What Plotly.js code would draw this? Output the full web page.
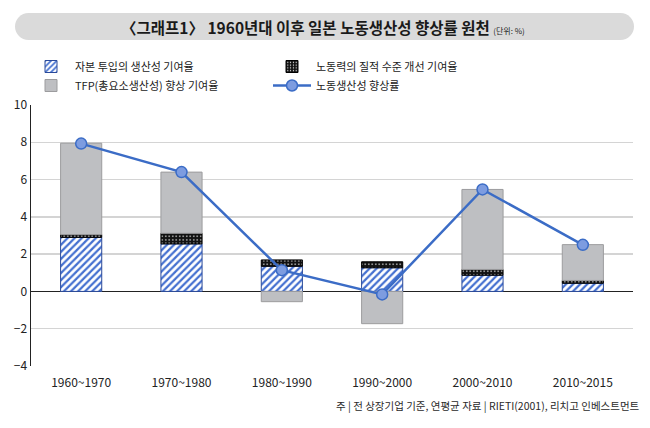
<!DOCTYPE html>
<html>
<head>
<meta charset="utf-8">
<script src="https://cdn.plot.ly/plotly-3.0.1.min.js"></script>
<style>html,body{margin:0;padding:0;background:#fff;}#chart{width:650px;height:428px;}</style>
</head>
<body>
<div id="chart"></div>
<script>
// ---- data ----
var periods = ["1960~1970", "1970~1980", "1980~1990", "1990~2000", "2000~2010", "2010~2015"];
var capitalContribution = [2.9, 2.55, 1.35, 1.27, 0.87, 0.44];      // 자본 투입의 생산성 기여율
var laborQualityContribution = [0.15, 0.57, 0.34, 0.32, 0.31, 0.15]; // 노동력의 질적 수준 개선 기여율
var tfpContribution = [4.9, 3.28, -0.55, -1.73, 4.29, 1.92];       // TFP(총요소생산성) 향상 기여율
var productivityGrowth = [7.93, 6.4, 1.14, -0.16, 5.47, 2.5];      // 노동생산성 향상률
var yTicks = [-4, -2, 0, 2, 4, 6, 8, 10];

var FONT = '"Noto Sans CJK KR", "Noto Sans", sans-serif';

var traces = [
  {
    type: 'bar', name: '자본 투입의 생산성 기여율', x: periods, y: capitalContribution,
    legend: 'legend',
    marker: {
      color: '#ffffff',
      line: {color: '#2a4a9a', width: 1},
      pattern: {shape: '/', fgcolor: '#4470d0', bgcolor: '#ffffff', size: 5, solidity: 0.45}
    }
  },
  {
    type: 'bar', name: '노동력의 질적 수준 개선 기여율', x: periods, y: laborQualityContribution,
    legend: 'legend2',
    marker: {
      color: '#111111',
      line: {color: '#000000', width: 1},
      pattern: {shape: '.', fgcolor: '#ffffff', bgcolor: '#111111', size: 3.5, solidity: 0.15}
    }
  },
  {
    type: 'bar', name: 'TFP(총요소생산성) 향상 기여율', x: periods, y: tfpContribution,
    legend: 'legend',
    marker: {color: '#bebfc2', line: {color: '#9c9c9e', width: 1}}
  },
  {
    type: 'scatter', mode: 'lines+markers', name: '노동생산성 향상률', x: periods, y: productivityGrowth,
    legend: 'legend2',
    line: {color: '#3b6cc6', width: 2.5},
    marker: {size: 11, color: '#7d9ce0', line: {color: '#3b6cc6', width: 1.5}}
  }
];

// rounded title pill (pixel coordinates relative to plot's top-left)
var L = -16, R = 603, B = 65, T = 92, r = (T - B) / 2, k = 0.5523 * r, cy = (T + B) / 2;
var pill = 'M' + (L + r) + ',' + T + ' L' + (R - r) + ',' + T +
  ' C' + (R - r + k) + ',' + T + ' ' + R + ',' + (cy + k) + ' ' + R + ',' + cy +
  ' C' + R + ',' + (cy - k) + ' ' + (R - r + k) + ',' + B + ' ' + (R - r) + ',' + B +
  ' L' + (L + r) + ',' + B +
  ' C' + (L + r - k) + ',' + B + ' ' + L + ',' + (cy - k) + ' ' + L + ',' + cy +
  ' C' + L + ',' + (cy + k) + ' ' + (L + r - k) + ',' + T + ' ' + (L + r) + ',' + T + ' Z';

var layout = {
  width: 650, height: 428,
  margin: {l: 31, r: 17, t: 105, b: 62, autoexpand: false},
  paper_bgcolor: '#ffffff', plot_bgcolor: '#ffffff',
  font: {family: FONT, size: 12, color: '#222'},
  barmode: 'relative',
  bargap: 0.59,
  showlegend: true,
  legend: {
    xref: 'container', yref: 'container', x: 27 / 650, y: 1 - 52 / 428,
    xanchor: 'left', yanchor: 'top', orientation: 'v', traceorder: 'normal',
    font: {family: FONT, size: 11, color: '#222'}, bgcolor: 'rgba(0,0,0,0)', itemwidth: 38
  },
  legend2: {
    xref: 'container', yref: 'container', x: 268 / 650, y: 1 - 52 / 428,
    xanchor: 'left', yanchor: 'top', orientation: 'v', traceorder: 'normal',
    font: {family: FONT, size: 11, color: '#222'}, bgcolor: 'rgba(0,0,0,0)', itemwidth: 38
  },
  xaxis: {
    type: 'category', showgrid: false, showline: false, zeroline: false,
    ticks: 'outside', ticklen: 6, tickcolor: 'rgba(0,0,0,0)', tickangle: 0,
    tickfont: {family: FONT, size: 12, color: '#222'}, fixedrange: true
  },
  yaxis: {
    range: [-4, 10], tickvals: yTicks, showline: true, linecolor: '#222', linewidth: 1.5,
    showgrid: true, gridcolor: '#d4d4d4', gridwidth: 1.5,
    zeroline: true, zerolinecolor: '#222', zerolinewidth: 1.5,
    tickfont: {family: FONT, size: 12, color: '#222'}, fixedrange: true
  },
  shapes: [{
    type: 'path', layer: 'below', xref: 'paper', yref: 'paper',
    xsizemode: 'pixel', ysizemode: 'pixel', xanchor: 0, yanchor: 1,
    path: pill, fillcolor: '#dadada', line: {width: 0}
  }],
  annotations: [
    {
      xref: 'paper', yref: 'paper', x: (323 - 31) / 602, y: 1, yshift: 78,
      xanchor: 'center', yanchor: 'middle', showarrow: false,
      text: '〈그래프1〉 1960년대 이후 일본 노동생산성 향상률 원천 <span style="font-size:8px;font-weight:normal">(단위: %)</span>',
      font: {family: FONT, size: 15.5, color: '#1a1a1a', weight: 'bold'}
    },
    {
      xref: 'paper', yref: 'paper', x: (642 - 31) / 602, y: 0, yshift: -39,
      xanchor: 'right', yanchor: 'middle', showarrow: false,
      text: '주 | 전 상장기업 기준, 연평균 자료 | RIETI(2001), 리치고 인베스트먼트',
      font: {family: FONT, size: 10.5, color: '#2a2a2a'}
    }
  ]
};

Plotly.newPlot('chart', traces, layout, {staticPlot: true, displayModeBar: false});
</script>
</body>
</html>
